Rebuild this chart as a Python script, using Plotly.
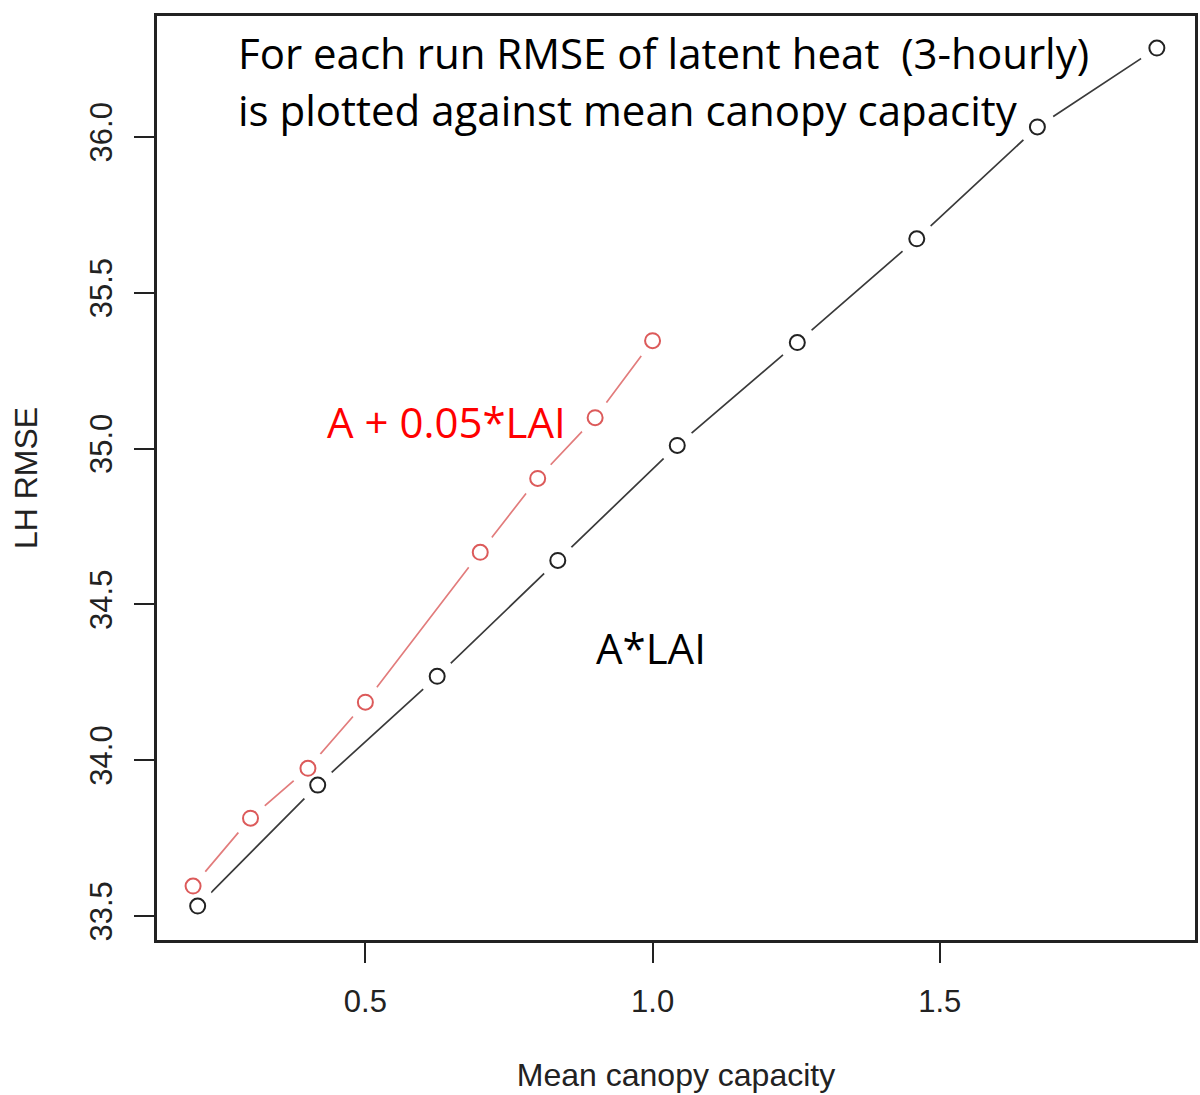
import plotly.graph_objects as go

# Data
black_x = [0.208, 0.417, 0.625, 0.835, 1.043, 1.252, 1.460, 1.670, 1.878]
black_y = [33.532, 33.920, 34.269, 34.641, 35.010, 35.340, 35.673, 36.032, 36.285]
red_x = [0.2, 0.3, 0.4, 0.5, 0.7, 0.8, 0.9, 1.0]
red_y = [33.596, 33.814, 33.974, 34.186, 34.667, 34.904, 35.099, 35.346]

x_ticks = [0.5, 1.0, 1.5]
x_ticklabels = ["0.5", "1.0", "1.5"]
y_ticks = [33.5, 34.0, 34.5, 35.0, 35.5, 36.0]
y_ticklabels = ["33.5", "34.0", "34.5", "35.0", "35.5", "36.0"]

BLACK_LINE = "#3a3a3a"
BLACK_MARK = "#222222"
RED_LINE = "#e27c7c"
RED_MARK = "#dc5a5a"

fig = go.Figure()

def add_line_with_gaps(xs, ys, line_color):
    # R type="b": line segments with gaps around each point
    fig.add_trace(go.Scatter(x=xs, y=ys, mode="lines",
                             line=dict(color=line_color, width=1.7),
                             hoverinfo="skip", showlegend=False))
    fig.add_trace(go.Scatter(x=xs, y=ys, mode="markers",
                             marker=dict(size=38, color="white", line=dict(width=0)),
                             hoverinfo="skip", showlegend=False))

def add_points(xs, ys, mark_color):
    fig.add_trace(go.Scatter(x=xs, y=ys, mode="markers",
                             marker=dict(size=15, color=mark_color, symbol="circle-open",
                                         line=dict(color=mark_color, width=2)),
                             showlegend=False))

add_line_with_gaps(black_x, black_y, BLACK_LINE)
add_line_with_gaps(red_x, red_y, RED_LINE)
add_points(black_x, black_y, BLACK_MARK)
add_points(red_x, red_y, RED_MARK)

axis_font = dict(family="Liberation Sans, Arial, sans-serif", size=31, color="#222222")
title_font = dict(family="Liberation Sans, Arial, sans-serif", size=32, color="#222222")

fig.update_layout(
    width=1200, height=1095,
    margin=dict(l=157, r=2, t=16, b=155),
    paper_bgcolor="white", plot_bgcolor="white",
    xaxis=dict(range=[0.1372, 1.9444], tickvals=x_ticks, ticktext=x_ticklabels,
               showgrid=False, zeroline=False, showline=True, mirror=True,
               linecolor="#222222", linewidth=2.5, ticks="outside", ticklen=20,
               tickwidth=2, tickcolor="#222222", tickfont=axis_font,
               ticklabelstandoff=12,
               title=dict(text="Mean canopy capacity", font=title_font, standoff=46)),
    yaxis=dict(range=[33.423, 36.388], tickvals=y_ticks, ticktext=y_ticklabels,
               showgrid=False, zeroline=False, showline=True, mirror=True,
               linecolor="#222222", linewidth=2.5, ticks="outside", ticklen=20,
               tickwidth=2, tickcolor="#222222", tickfont=axis_font, tickangle=-90,
               ticklabelstandoff=10,
               title=dict(text="LH RMSE", font=title_font, standoff=37)),
)

ann_font = dict(family="Open Sans, Noto Sans, sans-serif", size=42, color="black")
fig.add_annotation(x=0.274, y=36.272, xref="x", yref="y", text="For each run RMSE of latent heat  (3-hourly)",
                   showarrow=False, xanchor="left", yanchor="middle", font=ann_font)
fig.add_annotation(x=0.274, y=36.087, xref="x", yref="y", text="is plotted against mean canopy capacity",
                   showarrow=False, xanchor="left", yanchor="middle", font=ann_font)
fig.add_annotation(x=0.429, y=35.087, xref="x", yref="y", text="A + 0.05*LAI",
                   showarrow=False, xanchor="left", yanchor="middle",
                   font=dict(family="Open Sans, Noto Sans, sans-serif", size=42, color="#ff0000"))
fig.add_annotation(x=0.898, y=34.362, xref="x", yref="y", text="A*LAI",
                   showarrow=False, xanchor="left", yanchor="middle", font=ann_font)

fig.write_html("out.html")
